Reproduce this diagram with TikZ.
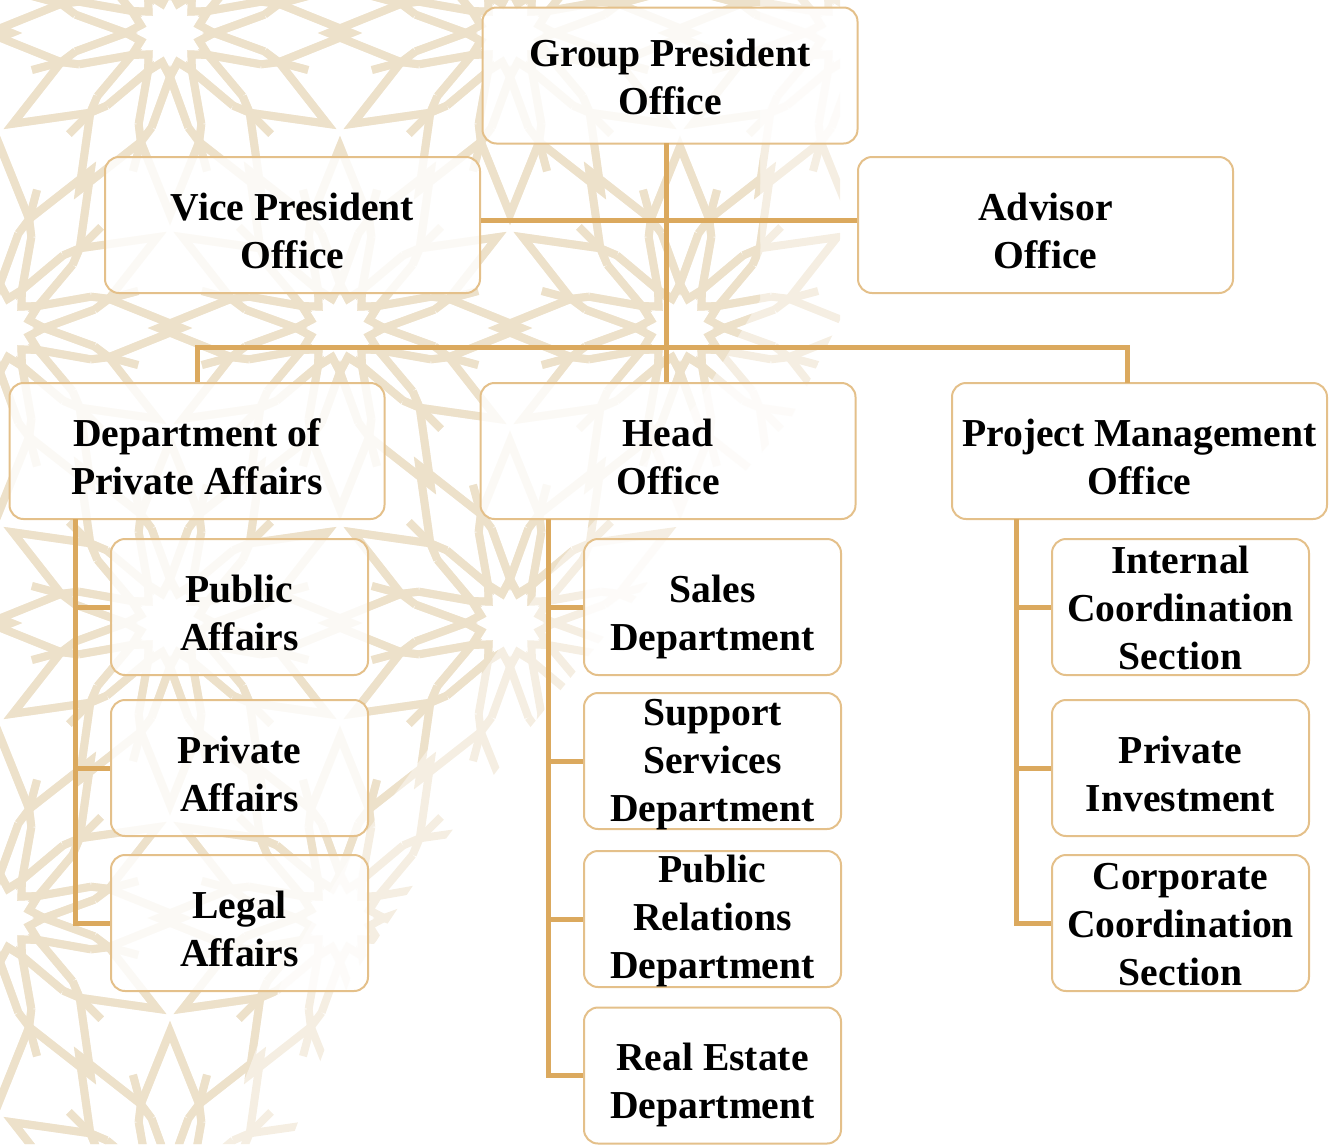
\documentclass[tikz,border=0pt]{standalone}
\usepackage{fontspec}
\setmainfont{Liberation Serif}
\definecolor{connc}{HTML}{DBA95E}
\definecolor{boxline}{HTML}{E4C08A}
\definecolor{patc}{HTML}{EDE1CA}
\definecolor{patl}{HTML}{F5EEE2}
\newcommand{\myrosette}[2]{%
  \begin{scope}[shift={(#1,#2)}, scale=0.55]
  \foreach \i in {0,...,11}{
    \draw[pat] ({30*\i}:80) -- ({30*\i+15}:55) -- ({30*\i+30}:80);
    \draw[pat] ({30*\i-11}:175) -- ({30*\i}:80) -- ({30*\i+11}:175);
    \draw[pat] ({30*\i+11}:175) -- ({30*\i+15}:205) -- ({30*\i+19}:175);
    \draw[pat] ({30*\i+15}:205) -- ({30*\i+30}:330) -- ({30*\i+45}:205);
    \draw[pat] ({30*\i+15}:205) -- ({30*\i+15}:260);
  }
  \end{scope}%
}
\newcommand{\mypattern}{%
  \foreach \cx/\cy in {-170/33,170/33,510/33,850/33,0/328,340/328,680/328,-170/623,170/623,510/623,0/918,340/918,680/918,170/1213,510/1213,-170/1213}{
    \myrosette{\cx}{\cy}
  }%
}
\newcommand{\bt}[2][-16pt]{\raisebox{#1}[0pt][0pt]{\begin{tabular}{@{}c@{}}#2\end{tabular}}}
\tikzset{
  pat/.style={draw=patc, line width=8pt, line join=miter},
  box/.style={draw=boxline, line width=2pt, fill=white, fill opacity=0.82, text opacity=1,
    rounded corners=14pt, minimum width=375pt, minimum height=136pt, inner sep=0pt,
    font=\fontsize{39.6}{48}\selectfont\bfseries},
  sbox/.style={box, minimum width=257pt},
  conn/.style={draw=connc, line width=5pt, line join=miter},
}
\begin{document}
\begin{tikzpicture}[x=1pt,y=-1pt]
\useasboundingbox (0,0) rectangle (1338,1144);
% background pattern: faint outer band, then stronger core
\begin{scope}[pat/.append style={draw=patl}]
  \clip (0,0) -- (840,0) -- (840,320) -- (790,420) -- (650,580) -- (520,740) -- (430,860) -- (350,980) -- (290,1144) -- (0,1144) -- cycle;
  \mypattern
\end{scope}
\begin{scope}
  \clip (0,0) -- (760,0) -- (760,300) -- (700,400) -- (560,560) -- (450,720) -- (360,840) -- (290,960) -- (220,1144) -- (0,1144) -- cycle;
  \mypattern
\end{scope}
% nodes
\node[box] (gp) at (670,75.5) {\bt[-12pt]{Group President\\Office}};
\node[box] (vp) at (292.5,225) {\bt{Vice President\\Office}};
\node[box] (ad) at (1045.5,225) {\bt{Advisor\\Office}};
\node[box] (dpa) at (197,451) {\bt{Department of\\Private Affairs}};
\node[box] (ho) at (668,451) {\bt{Head\\Office}};
\node[box] (pmo) at (1139.5,451) {\bt{Project Management\\Office}};
\node[sbox] (pa) at (239.5,607) {\bt{Public\\Affairs}};
\node[sbox] (pra) at (239.5,768) {\bt{Private\\Affairs}};
\node[sbox] (la) at (239.5,923) {\bt{Legal\\Affairs}};
\node[sbox] (sd) at (712.5,607) {\bt{Sales\\Department}};
\node[sbox] (ssd) at (712.5,761) {\bt[-9pt]{Support\\Services\\Department}};
\node[sbox] (prd) at (712.5,919) {\bt[-8pt]{Public\\Relations\\Department}};
\node[sbox] (red) at (712.5,1075.5) {\bt{Real Estate\\Department}};
\node[sbox] (ics) at (1180.5,607) {\bt[-11pt]{Internal\\Coordination\\Section}};
\node[sbox] (pi) at (1180.5,768) {\bt{Private\\Investment}};
\node[sbox] (ccs) at (1180.5,923) {\bt[-11pt]{Corporate\\Coordination\\Section}};
% coordinates
\coordinate (trunk) at (666,143);
\coordinate (hb) at (0,220);
\coordinate (bus) at (0,347);
\coordinate (pmotop) at (1127,383);
\coordinate (lt) at (75,519);
\coordinate (mt) at (548,519);
\coordinate (rt) at (1016,519);
% connectors
\draw[conn] (vp.east |- hb) -- (ad.west |- hb);
\draw[conn] (trunk) -- (trunk |- ho.north);
\draw[conn] (dpa.north) -- (dpa.north |- bus) -- (pmotop |- bus) -- (pmotop);
\draw[conn] (lt) -- (lt |- la.west) -- (la.west);
\draw[conn] (lt |- pa.west) -- (pa.west);
\draw[conn] (lt |- pra.west) -- (pra.west);
\draw[conn] (mt) -- (mt |- red.west) -- (red.west);
\draw[conn] (mt |- sd.west) -- (sd.west);
\draw[conn] (mt |- ssd.west) -- (ssd.west);
\draw[conn] (mt |- prd.west) -- (prd.west);
\draw[conn] (rt) -- (rt |- ccs.west) -- (ccs.west);
\draw[conn] (rt |- ics.west) -- (ics.west);
\draw[conn] (rt |- pi.west) -- (pi.west);
\end{tikzpicture}
\end{document}
